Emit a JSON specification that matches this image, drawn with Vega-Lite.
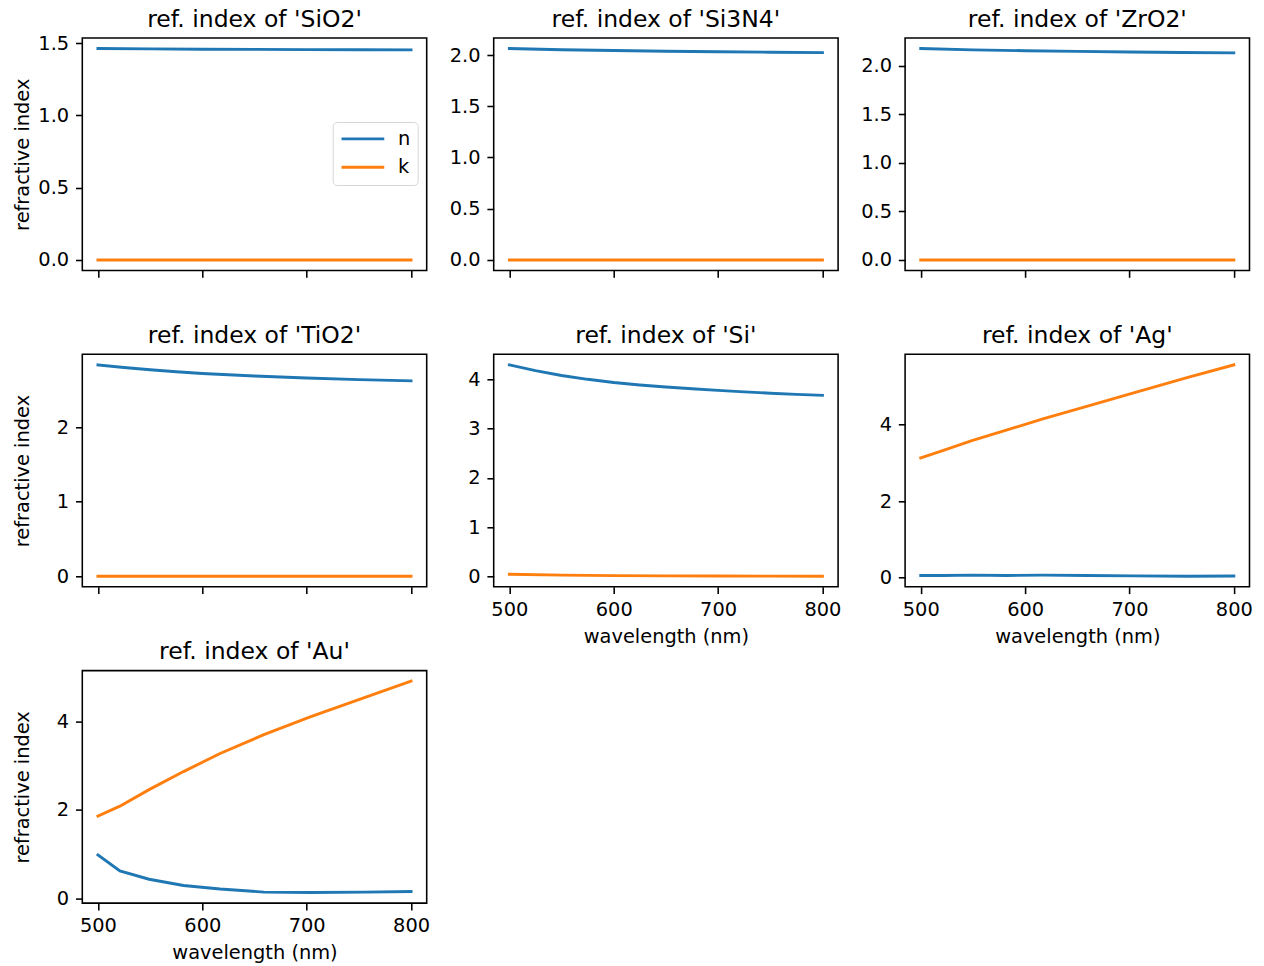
{
  "$schema": "https://vega.github.io/schema/vega-lite/v6.json",
  "padding": {"left": 11.3, "top": 6, "right": 0, "bottom": 0},
  "background": "white",
  "bounds": "flush",
  "columns": 3,
  "spacing": {"row": 83.3, "column": 66.4},
  "resolve": {"scale": {"x": "independent", "y": "independent", "color": "independent"}, "legend": {"color": "independent"}},
  "data": {"values": [
    {"m": "SiO2", "c": "n", "w": 500, "v": 1.4623},
    {"m": "SiO2", "c": "n", "w": 550, "v": 1.4599},
    {"m": "SiO2", "c": "n", "w": 600, "v": 1.4580},
    {"m": "SiO2", "c": "n", "w": 650, "v": 1.4565},
    {"m": "SiO2", "c": "n", "w": 700, "v": 1.4553},
    {"m": "SiO2", "c": "n", "w": 750, "v": 1.4542},
    {"m": "SiO2", "c": "n", "w": 800, "v": 1.4533},
    {"m": "SiO2", "c": "k", "w": 500, "v": 0},
    {"m": "SiO2", "c": "k", "w": 650, "v": 0},
    {"m": "SiO2", "c": "k", "w": 800, "v": 0},
    {"m": "Si3N4", "c": "n", "w": 500, "v": 2.0634},
    {"m": "Si3N4", "c": "n", "w": 550, "v": 2.0523},
    {"m": "Si3N4", "c": "n", "w": 600, "v": 2.0439},
    {"m": "Si3N4", "c": "n", "w": 650, "v": 2.0374},
    {"m": "Si3N4", "c": "n", "w": 700, "v": 2.0321},
    {"m": "Si3N4", "c": "n", "w": 750, "v": 2.0278},
    {"m": "Si3N4", "c": "n", "w": 800, "v": 2.0242},
    {"m": "Si3N4", "c": "k", "w": 500, "v": 0},
    {"m": "Si3N4", "c": "k", "w": 650, "v": 0},
    {"m": "Si3N4", "c": "k", "w": 800, "v": 0},
    {"m": "ZrO2", "c": "n", "w": 500, "v": 2.176},
    {"m": "ZrO2", "c": "n", "w": 550, "v": 2.163},
    {"m": "ZrO2", "c": "n", "w": 600, "v": 2.154},
    {"m": "ZrO2", "c": "n", "w": 650, "v": 2.147},
    {"m": "ZrO2", "c": "n", "w": 700, "v": 2.141},
    {"m": "ZrO2", "c": "n", "w": 750, "v": 2.136},
    {"m": "ZrO2", "c": "n", "w": 800, "v": 2.132},
    {"m": "ZrO2", "c": "k", "w": 500, "v": 0},
    {"m": "ZrO2", "c": "k", "w": 650, "v": 0},
    {"m": "ZrO2", "c": "k", "w": 800, "v": 0},
    {"m": "TiO2", "c": "n", "w": 500, "v": 2.835},
    {"m": "TiO2", "c": "n", "w": 525, "v": 2.800},
    {"m": "TiO2", "c": "n", "w": 550, "v": 2.770},
    {"m": "TiO2", "c": "n", "w": 575, "v": 2.743},
    {"m": "TiO2", "c": "n", "w": 600, "v": 2.720},
    {"m": "TiO2", "c": "n", "w": 650, "v": 2.685},
    {"m": "TiO2", "c": "n", "w": 700, "v": 2.658},
    {"m": "TiO2", "c": "n", "w": 750, "v": 2.637},
    {"m": "TiO2", "c": "n", "w": 800, "v": 2.621},
    {"m": "TiO2", "c": "k", "w": 500, "v": 0},
    {"m": "TiO2", "c": "k", "w": 650, "v": 0},
    {"m": "TiO2", "c": "k", "w": 800, "v": 0},
    {"m": "Si", "c": "n", "w": 500, "v": 4.293},
    {"m": "Si", "c": "n", "w": 525, "v": 4.175},
    {"m": "Si", "c": "n", "w": 550, "v": 4.077},
    {"m": "Si", "c": "n", "w": 575, "v": 4.000},
    {"m": "Si", "c": "n", "w": 600, "v": 3.935},
    {"m": "Si", "c": "n", "w": 625, "v": 3.885},
    {"m": "Si", "c": "n", "w": 650, "v": 3.845},
    {"m": "Si", "c": "n", "w": 675, "v": 3.808},
    {"m": "Si", "c": "n", "w": 700, "v": 3.775},
    {"m": "Si", "c": "n", "w": 725, "v": 3.745},
    {"m": "Si", "c": "n", "w": 750, "v": 3.718},
    {"m": "Si", "c": "n", "w": 775, "v": 3.695},
    {"m": "Si", "c": "n", "w": 800, "v": 3.675},
    {"m": "Si", "c": "k", "w": 500, "v": 0.045},
    {"m": "Si", "c": "k", "w": 550, "v": 0.028},
    {"m": "Si", "c": "k", "w": 600, "v": 0.018},
    {"m": "Si", "c": "k", "w": 650, "v": 0.013},
    {"m": "Si", "c": "k", "w": 700, "v": 0.009},
    {"m": "Si", "c": "k", "w": 750, "v": 0.007},
    {"m": "Si", "c": "k", "w": 800, "v": 0.005},
    {"m": "Ag", "c": "n", "w": 500, "v": 0.05},
    {"m": "Ag", "c": "n", "w": 521, "v": 0.05},
    {"m": "Ag", "c": "n", "w": 549, "v": 0.06},
    {"m": "Ag", "c": "n", "w": 582, "v": 0.05},
    {"m": "Ag", "c": "n", "w": 617, "v": 0.06},
    {"m": "Ag", "c": "n", "w": 659, "v": 0.05},
    {"m": "Ag", "c": "n", "w": 704, "v": 0.04},
    {"m": "Ag", "c": "n", "w": 756, "v": 0.03},
    {"m": "Ag", "c": "n", "w": 800, "v": 0.037},
    {"m": "Ag", "c": "k", "w": 500, "v": 3.13},
    {"m": "Ag", "c": "k", "w": 521, "v": 3.324},
    {"m": "Ag", "c": "k", "w": 549, "v": 3.586},
    {"m": "Ag", "c": "k", "w": 582, "v": 3.858},
    {"m": "Ag", "c": "k", "w": 617, "v": 4.152},
    {"m": "Ag", "c": "k", "w": 659, "v": 4.483},
    {"m": "Ag", "c": "k", "w": 704, "v": 4.838},
    {"m": "Ag", "c": "k", "w": 756, "v": 5.242},
    {"m": "Ag", "c": "k", "w": 800, "v": 5.57},
    {"m": "Au", "c": "n", "w": 500, "v": 0.98},
    {"m": "Au", "c": "n", "w": 521, "v": 0.62},
    {"m": "Au", "c": "n", "w": 549, "v": 0.43},
    {"m": "Au", "c": "n", "w": 582, "v": 0.29},
    {"m": "Au", "c": "n", "w": 617, "v": 0.21},
    {"m": "Au", "c": "n", "w": 659, "v": 0.14},
    {"m": "Au", "c": "n", "w": 704, "v": 0.13},
    {"m": "Au", "c": "n", "w": 756, "v": 0.14},
    {"m": "Au", "c": "n", "w": 800, "v": 0.154},
    {"m": "Au", "c": "k", "w": 500, "v": 1.86},
    {"m": "Au", "c": "k", "w": 521, "v": 2.081},
    {"m": "Au", "c": "k", "w": 549, "v": 2.455},
    {"m": "Au", "c": "k", "w": 582, "v": 2.863},
    {"m": "Au", "c": "k", "w": 617, "v": 3.272},
    {"m": "Au", "c": "k", "w": 659, "v": 3.697},
    {"m": "Au", "c": "k", "w": 704, "v": 4.103},
    {"m": "Au", "c": "k", "w": 756, "v": 4.542},
    {"m": "Au", "c": "k", "w": 800, "v": 4.906}
  ]},
  "concat": [
    {
      "title": {"text": "ref. index of 'SiO2'", "offset": 2},
      "width": 344.4, "height": 232.5,
      "transform": [{"filter": "datum.m === 'SiO2'"}],
      "mark": {"type": "line"},
      "encoding": {
        "x": {"field": "w", "type": "quantitative", "scale": {"domain": [485, 815], "nice": false, "zero": false}, "axis": {"values": [500, 600, 700, 800], "labels": false, "title": null}},
        "y": {"field": "v", "type": "quantitative", "scale": {"domain": [-0.0731, 1.5354], "nice": false, "zero": false}, "axis": {"values": [0, 0.5, 1, 1.5], "format": ".1f", "title": "refractive index"}},
        "color": {"field": "c", "type": "nominal", "scale": {"domain": ["n", "k"], "range": ["#1f77b4", "#ff7f0e"]},
          "legend": {"title": null, "orient": "none", "legendX": 250.4, "legendY": 84, "direction": "vertical"}}
      }
    },
    {
      "title": {"text": "ref. index of 'Si3N4'"},
      "width": 344.4, "height": 232.5,
      "transform": [{"filter": "datum.m === 'Si3N4'"}],
      "mark": {"type": "line"},
      "encoding": {
        "x": {"field": "w", "type": "quantitative", "scale": {"domain": [485, 815], "nice": false, "zero": false}, "axis": {"values": [500, 600, 700, 800], "labels": false, "title": null}},
        "y": {"field": "v", "type": "quantitative", "scale": {"domain": [-0.1032, 2.1666], "nice": false, "zero": false}, "axis": {"values": [0, 0.5, 1, 1.5, 2], "format": ".1f", "title": null}},
        "color": {"field": "c", "type": "nominal", "scale": {"domain": ["n", "k"], "range": ["#1f77b4", "#ff7f0e"]}, "legend": null}
      }
    },
    {
      "title": {"text": "ref. index of 'ZrO2'"},
      "width": 344.4, "height": 232.5,
      "transform": [{"filter": "datum.m === 'ZrO2'"}],
      "mark": {"type": "line"},
      "encoding": {
        "x": {"field": "w", "type": "quantitative", "scale": {"domain": [485, 815], "nice": false, "zero": false}, "axis": {"values": [500, 600, 700, 800], "labels": false, "title": null}},
        "y": {"field": "v", "type": "quantitative", "scale": {"domain": [-0.1088, 2.2848], "nice": false, "zero": false}, "axis": {"values": [0, 0.5, 1, 1.5, 2], "format": ".1f", "title": null}},
        "color": {"field": "c", "type": "nominal", "scale": {"domain": ["n", "k"], "range": ["#1f77b4", "#ff7f0e"]}, "legend": null}
      }
    },
    {
      "title": {"text": "ref. index of 'TiO2'"},
      "width": 344.4, "height": 232.5,
      "transform": [{"filter": "datum.m === 'TiO2'"}],
      "mark": {"type": "line"},
      "encoding": {
        "x": {"field": "w", "type": "quantitative", "scale": {"domain": [485, 815], "nice": false, "zero": false}, "axis": {"values": [500, 600, 700, 800], "labels": false, "title": null}},
        "y": {"field": "v", "type": "quantitative", "scale": {"domain": [-0.14175, 2.97675], "nice": false, "zero": false}, "axis": {"values": [0, 1, 2], "format": "d", "title": "refractive index"}},
        "color": {"field": "c", "type": "nominal", "scale": {"domain": ["n", "k"], "range": ["#1f77b4", "#ff7f0e"]}, "legend": null}
      }
    },
    {
      "title": {"text": "ref. index of 'Si'"},
      "width": 344.4, "height": 232.5,
      "transform": [{"filter": "datum.m === 'Si'"}],
      "mark": {"type": "line"},
      "encoding": {
        "x": {"field": "w", "type": "quantitative", "scale": {"domain": [485, 815], "nice": false, "zero": false}, "axis": {"values": [500, 600, 700, 800], "format": "d", "title": "wavelength (nm)"}},
        "y": {"field": "v", "type": "quantitative", "scale": {"domain": [-0.2094, 4.5074], "nice": false, "zero": false}, "axis": {"values": [0, 1, 2, 3, 4], "format": "d", "title": null}},
        "color": {"field": "c", "type": "nominal", "scale": {"domain": ["n", "k"], "range": ["#1f77b4", "#ff7f0e"]}, "legend": null}
      }
    },
    {
      "title": {"text": "ref. index of 'Ag'"},
      "width": 344.4, "height": 232.5,
      "transform": [{"filter": "datum.m === 'Ag'"}],
      "mark": {"type": "line"},
      "encoding": {
        "x": {"field": "w", "type": "quantitative", "scale": {"domain": [485, 815], "nice": false, "zero": false}, "axis": {"values": [500, 600, 700, 800], "format": "d", "title": "wavelength (nm)"}},
        "y": {"field": "v", "type": "quantitative", "scale": {"domain": [-0.247, 5.847], "nice": false, "zero": false}, "axis": {"values": [0, 2, 4], "format": "d", "title": null}},
        "color": {"field": "c", "type": "nominal", "scale": {"domain": ["n", "k"], "range": ["#1f77b4", "#ff7f0e"]}, "legend": null}
      }
    },
    {
      "title": {"text": "ref. index of 'Au'"},
      "width": 344.4, "height": 232.5,
      "transform": [{"filter": "datum.m === 'Au'"}],
      "mark": {"type": "line"},
      "encoding": {
        "x": {"field": "w", "type": "quantitative", "scale": {"domain": [485, 815], "nice": false, "zero": false}, "axis": {"values": [500, 600, 700, 800], "format": "d", "title": "wavelength (nm)"}},
        "y": {"field": "v", "type": "quantitative", "scale": {"domain": [-0.1088, 5.1448], "nice": false, "zero": false}, "axis": {"values": [0, 2, 4], "format": "d", "title": "refractive index"}},
        "color": {"field": "c", "type": "nominal", "scale": {"domain": ["n", "k"], "range": ["#1f77b4", "#ff7f0e"]}, "legend": null}
      }
    }
  ],
  "config": {
    "font": "DejaVu Sans",
    "view": {"stroke": "black", "strokeWidth": 1.56},
    "line": {"strokeWidth": 2.9, "strokeCap": "square"},
    "axis": {"domain": false, "grid": false, "tickColor": "black", "tickWidth": 1.56, "tickSize": 6.8, "labelColor": "black", "labelFont": "DejaVu Sans", "labelFontSize": 19.4, "titleFont": "DejaVu Sans", "titleFontSize": 19.4, "titleFontWeight": "normal", "titleColor": "black", "labelFlush": false, "labelOverlap": false, "titleBaseline": "alphabetic"},
    "axisX": {"labelBaseline": "alphabetic", "labelPadding": 21.5, "minExtent": 40, "maxExtent": 40, "titlePadding": 15.6},
    "axisY": {"labelPadding": 6.8, "labelBaseline": "middle", "minExtent": 42, "maxExtent": 42, "titlePadding": 12},
    "title": {"font": "DejaVu Sans", "fontSize": 23.5, "fontWeight": "normal", "color": "black", "baseline": "alphabetic", "offset": 7, "frame": "group", "anchor": "middle"},
    "legend": {"symbolType": "stroke", "symbolSize": 1823, "symbolStrokeWidth": 2.9, "labelFont": "DejaVu Sans", "labelFontSize": 19.4, "labelColor": "black", "labelOffset": 12, "fillColor": "white", "strokeColor": "#d6d6d6", "cornerRadius": 4, "padding": 7.2, "rowPadding": 7.4, "clipHeight": 19.4}
  }
}
